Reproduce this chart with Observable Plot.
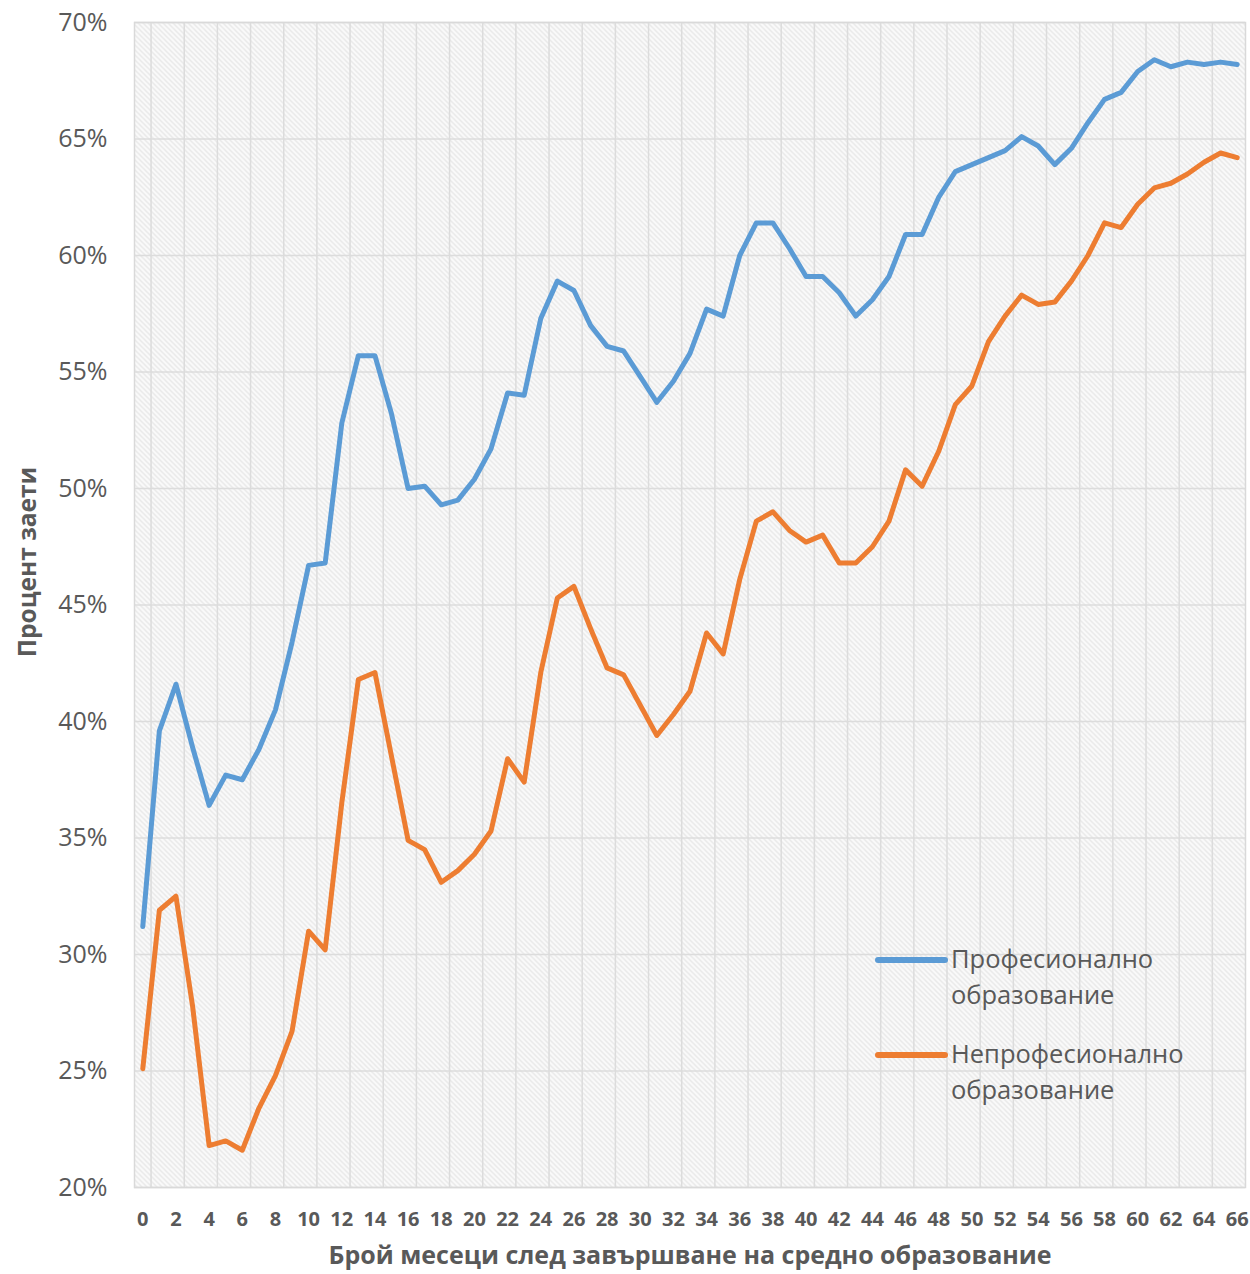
<!DOCTYPE html>
<html>
<head>
<meta charset="utf-8">
<script src="https://cdn.jsdelivr.net/npm/d3@7"></script>
<script src="https://cdn.jsdelivr.net/npm/@observablehq/plot@0.6"></script>
<style>
  html, body { margin: 0; padding: 0; background: #ffffff; }
  #chart { width: 1250px; height: 1274px; }
</style>
</head>
<body>
<div id="chart"></div>
<script>
// ---- data ----
const months = [0,1,2,3,4,5,6,7,8,9,10,11,12,13,14,15,16,17,18,19,20,21,22,23,24,25,26,27,28,29,30,31,32,33,34,35,36,37,38,39,40,41,42,43,44,45,46,47,48,49,50,51,52,53,54,55,56,57,58,59,60,61,62,63,64,65,66];
const seriesNames = ["Професионално образование", "Непрофесионално образование"];
const legendLines = [["Професионално", "образование"], ["Непрофесионално", "образование"]];
const professional = [
  31.2, 39.6, 41.6, 38.9, 36.4, 37.7, 37.5, 38.8, 40.5, 43.4,
  46.7, 46.8, 52.8, 55.7, 55.7, 53.2, 50.0, 50.1, 49.3, 49.5,
  50.4, 51.7, 54.1, 54.0, 57.3, 58.9, 58.5, 57.0, 56.1, 55.9,
  54.8, 53.7, 54.6, 55.8, 57.7, 57.4, 60.0, 61.4, 61.4, 60.3,
  59.1, 59.1, 58.4, 57.4, 58.1, 59.1, 60.9, 60.9, 62.5, 63.6,
  63.9, 64.2, 64.5, 65.1, 64.7, 63.9, 64.6, 65.7, 66.7, 67.0,
  67.9, 68.4, 68.1, 68.3, 68.2, 68.3, 68.2
];
const nonProfessional = [
  25.1, 31.9, 32.5, 27.8, 21.8, 22.0, 21.6, 23.4, 24.8, 26.7,
  31.0, 30.2, 36.5, 41.8, 42.1, 38.5, 34.9, 34.5, 33.1, 33.6,
  34.3, 35.3, 38.4, 37.4, 42.1, 45.3, 45.8, 44.0, 42.3, 42.0,
  40.7, 39.4, 40.3, 41.3, 43.8, 42.9, 46.1, 48.6, 49.0, 48.2,
  47.7, 48.0, 46.8, 46.8, 47.5, 48.6, 50.8, 50.1, 51.6, 53.6,
  54.4, 56.3, 57.4, 58.3, 57.9, 58.0, 58.9, 60.0, 61.4, 61.2,
  62.2, 62.9, 63.1, 63.5, 64.0, 64.4, 64.2
];
const yTicks = [20, 25, 30, 35, 40, 45, 50, 55, 60, 65, 70];
const xTicks = [0,2,4,6,8,10,12,14,16,18,20,22,24,26,28,30,32,34,36,38,40,42,44,46,48,50,52,54,56,58,60,62,64,66];
const xTitle = "Брой месеци след завършване на средно образование";
const yTitle = "Процент заети";
const colors = ["#5B9BD5", "#ED7D31"];

// ---- build table ----
const rows = [];
months.forEach((m, i) => rows.push({month: m, value: professional[i], series: seriesNames[0]}));
months.forEach((m, i) => rows.push({month: m, value: nonProfessional[i], series: seriesNames[1]}));
// vertical gridlines between categories, every 2 months
const xGrid = xTicks.filter(t => t < 66).map(t => t + 0.5);

const FONT = "'Open Sans', 'Noto Sans', 'DejaVu Sans', sans-serif";
const TXT = "#595959";

const chart = Plot.plot({
  width: 1250,
  height: 1274,
  marginLeft: 134,
  marginRight: 5,
  marginTop: 22,
  marginBottom: 87,
  style: {fontFamily: FONT, background: "#ffffff", color: TXT},
  x: {domain: [-0.5, 66.5], axis: null},
  y: {domain: [20, 70], axis: null},
  color: {domain: seriesNames, range: colors},
  marks: [
    Plot.frame({fill: "url(#hatch)", stroke: null}),
    Plot.ruleY(yTicks, {stroke: "#dcdcdc", strokeWidth: 1.5}),
    Plot.ruleX(xGrid, {stroke: "#dcdcdc", strokeWidth: 1.5}),
    Plot.frame({stroke: "#d9d9d9", strokeWidth: 1.5}),
    Plot.line(rows, {
      x: "month", y: "value", z: "series", stroke: "series",
      strokeWidth: 5, strokeLinejoin: "round", strokeLinecap: "round"
    }),
    Plot.axisY(yTicks, {
      tickSize: 0, tickPadding: 27, tickFormat: d => d + "%",
      fontSize: 25, fill: TXT, label: null
    }),
    Plot.axisX(xTicks, {
      tickSize: 0, tickPadding: 24, fontSize: 20, fontWeight: "bold",
      fill: TXT, label: null
    })
  ]
});

const svg = d3.select(chart);

// pattern definition for the plot-area texture
const defs = svg.insert("defs", ":first-child");
const pat = defs.append("pattern")
  .attr("id", "hatch").attr("patternUnits", "userSpaceOnUse")
  .attr("width", 5).attr("height", 5);
pat.append("rect").attr("width", 5).attr("height", 5).attr("fill", "#fcfcfc");
pat.append("path").attr("d", "M-1,-1 L6,6 M-1,4 L1,6 M4,-1 L6,1")
  .attr("stroke", "#e4e4e4").attr("stroke-width", 1.3);

// axis titles
svg.append("text")
  .attr("x", 690).attr("y", 1264)
  .attr("text-anchor", "middle")
  .attr("font-family", FONT).attr("font-size", 25).attr("font-weight", "bold")
  .attr("fill", TXT).text(xTitle);
svg.append("text")
  .attr("transform", "translate(36,562) rotate(-90)")
  .attr("text-anchor", "middle")
  .attr("font-family", FONT).attr("font-size", 24.5).attr("font-weight", "bold")
  .attr("fill", TXT).text(yTitle);

// legend inside the plot area
const legend = svg.append("g")
  .attr("font-family", FONT).attr("font-size", 25.5).attr("fill", TXT)
  .attr("text-anchor", "start");
const legendTop = [960, 1055];
legendLines.forEach((lines, i) => {
  const g = legend.append("g").attr("transform", `translate(878,${legendTop[i]})`);
  g.append("line").attr("x1", 0).attr("x2", 67).attr("y1", 0).attr("y2", 0)
    .attr("stroke", colors[i]).attr("stroke-width", 6).attr("stroke-linecap", "round");
  lines.forEach((t, j) => {
    g.append("text").attr("x", 73).attr("y", 8 + j * 36)
      .attr("text-anchor", "start").text(t);
  });
});

document.getElementById("chart").appendChild(chart);
</script>
</body>
</html>
